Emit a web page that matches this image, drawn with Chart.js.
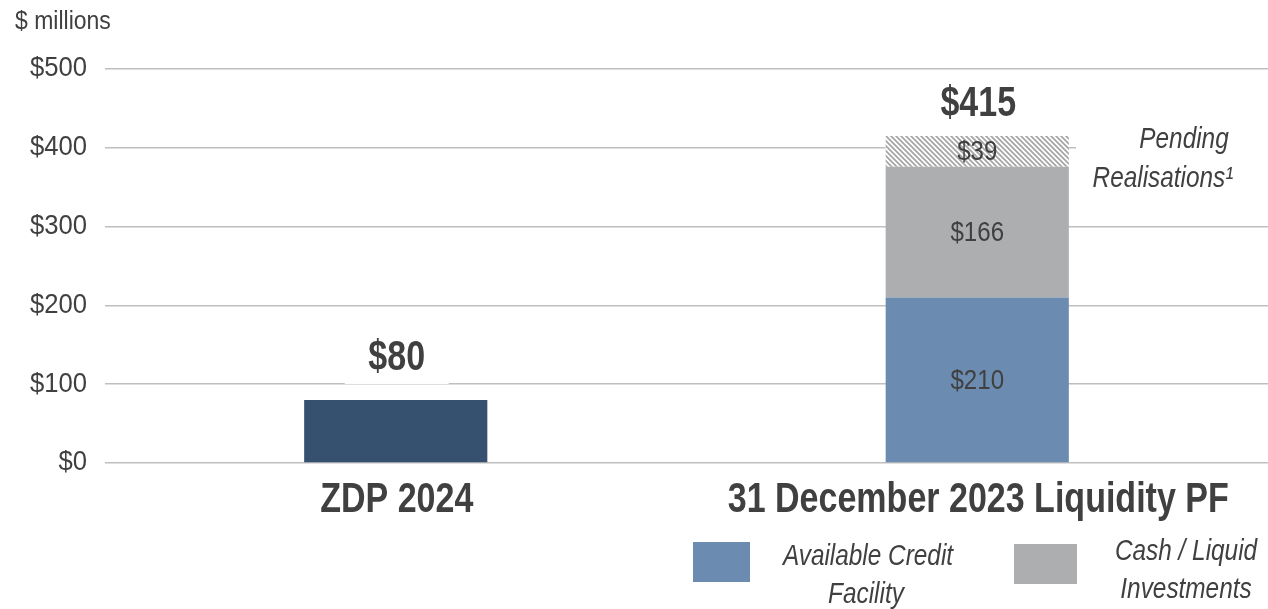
<!DOCTYPE html>
<html>
<head>
<meta charset="utf-8">
<script src="https://cdn.jsdelivr.net/npm/chart.js@4.4.0/dist/chart.umd.min.js"></script>
<style>
  html, body { margin: 0; padding: 0; background: #fff; }
  #wrap { width: 1268px; height: 609px; position: relative; }
</style>
</head>
<body>
<div id="wrap"><canvas id="liqChart" width="1268" height="609"></canvas></div>
<script>
// chart data
const categories = ['ZDP 2024', '31 December 2023 Liquidity PF'];
const zdpValues = [80, null];
const creditValues = [null, 210];
const cashValues = [null, 166];
const pendingValues = [null, 39];
const totals = [80, 415];
const yTicks = [0, 100, 200, 300, 400, 500];

const FONT = "'Liberation Sans', Arial, sans-serif";
const TXT = '#404040';

// hatched fill for pending realisations
const hatch = (function() {
    const c = document.createElement('canvas');
    c.width = 5; c.height = 5;
    const g = c.getContext('2d');
    g.fillStyle = '#ffffff';
    g.fillRect(0, 0, 5, 5);
    g.strokeStyle = '#a6a6a6';
    g.lineWidth = 1.8;
    g.beginPath();
    g.moveTo(-2, -2); g.lineTo(7, 7);
    g.moveTo(-2, 3); g.lineTo(2, 7);
    g.moveTo(3, -2); g.lineTo(7, 2);
    g.stroke();
    return g.createPattern(c, 'repeat');
})();

// text squeezed horizontally, the source uses a narrow face
function narrowText(ctx, txt, x, y, font, sx, align) {
    ctx.save();
    ctx.font = font;
    ctx.textAlign = align || 'center';
    ctx.textBaseline = 'middle';
    ctx.translate(x, y);
    ctx.scale(sx, 1);
    ctx.fillText(txt, 0, 0);
    ctx.restore();
}

const labelsPlugin = {
    id: 'labelsPlugin',
    afterDatasetsDraw(chart) {
        const ctx = chart.ctx;
        const area = chart.chartArea;
        const xs = chart.scales.x;
        const ys = chart.scales.y;
        const totalGap = [42, 32];
        ctx.save();

        // y tick labels
        ctx.fillStyle = TXT;
        yTicks.forEach(function(v) {
            narrowText(ctx, '$' + v, 87, ys.getPixelForValue(v), '27px ' + FONT, 0.95, 'right');
        });

        // category labels
        categories.forEach(function(c, i) {
            narrowText(ctx, c, xs.getPixelForValue(i) + 1, area.bottom + 37, 'bold 42px ' + FONT, 0.81);
        });

        // values inside stacked segments
        [1, 2, 3].forEach(function(di) {
            const bar = chart.getDatasetMeta(di).data[1];
            const v = chart.data.datasets[di].data[1];
            narrowText(ctx, '$' + v, bar.x, (bar.y + bar.base) / 2 + 1, '28px ' + FONT, 0.86);
        });

        // totals with white box behind
        totals.forEach(function(t, i) {
            const xPos = xs.getPixelForValue(i) + 1;
            const yPos = ys.getPixelForValue(t) - totalGap[i];
            ctx.fillStyle = '#fff';
            ctx.fillRect(xPos - 52, yPos - 24, 104, 50);
            ctx.fillStyle = TXT;
            narrowText(ctx, '$' + t, xPos, yPos, 'bold 42px ' + FONT, 0.81);
        });

        // pending realisations note
        ctx.fillStyle = '#fff';
        ctx.fillRect(1076, 122, area.right - 1076 + 2, 76);
        ctx.fillStyle = TXT;
        narrowText(ctx, 'Pending', 1184, 140, 'italic 29px ' + FONT, 0.84);
        narrowText(ctx, 'Realisations\u00B9', 1163, 179, 'italic 29px ' + FONT, 0.84);

        // axis unit
        narrowText(ctx, '$ millions', 15, 22, '25px ' + FONT, 0.92, 'left');

        // legend
        ctx.fillStyle = '#6b8cb0';
        ctx.fillRect(693, 542, 57, 40);
        ctx.fillStyle = '#adaeb0';
        ctx.fillRect(1014, 544, 63, 40);
        ctx.fillStyle = TXT;
        narrowText(ctx, 'Available Credit', 868, 557, 'italic 29px ' + FONT, 0.84);
        narrowText(ctx, 'Facility', 866, 595, 'italic 29px ' + FONT, 0.84);
        narrowText(ctx, 'Cash / Liquid', 1186, 552, 'italic 29px ' + FONT, 0.84);
        narrowText(ctx, 'Investments', 1186, 590, 'italic 29px ' + FONT, 0.84);
        ctx.restore();
    }
};

new Chart(document.getElementById('liqChart'), {
    type: 'bar',
    data: {
        labels: categories,
        datasets: [
            { label: 'ZDP', data: zdpValues, backgroundColor: '#36506f' },
            { label: 'Available Credit Facility', data: creditValues, backgroundColor: '#6b8cb0' },
            { label: 'Cash / Liquid Investments', data: cashValues, backgroundColor: '#adaeb0' },
            { label: 'Pending Realisations', data: pendingValues, backgroundColor: hatch }
        ]
    },
    options: {
        responsive: false,
        animation: false,
        layout: { padding: { top: 69, right: 0, bottom: 146, left: 105 } },
        datasets: { bar: { categoryPercentage: 1, barPercentage: 0.315 } },
        plugins: { legend: { display: false }, tooltip: { enabled: false } },
        scales: {
            x: {
                stacked: true,
                grid: { display: false, drawTicks: false },
                border: { display: false },
                ticks: { display: false }
            },
            y: {
                stacked: true,
                min: 0,
                max: 500,
                afterBuildTicks(axis) { axis.ticks = yTicks.map(function(v) { return { value: v }; }); },
                grid: { color: '#bfbfbf', lineWidth: 1.5, drawTicks: false },
                border: { display: false },
                ticks: { display: false }
            }
        }
    },
    plugins: [labelsPlugin]
});
</script>
</body>
</html>
